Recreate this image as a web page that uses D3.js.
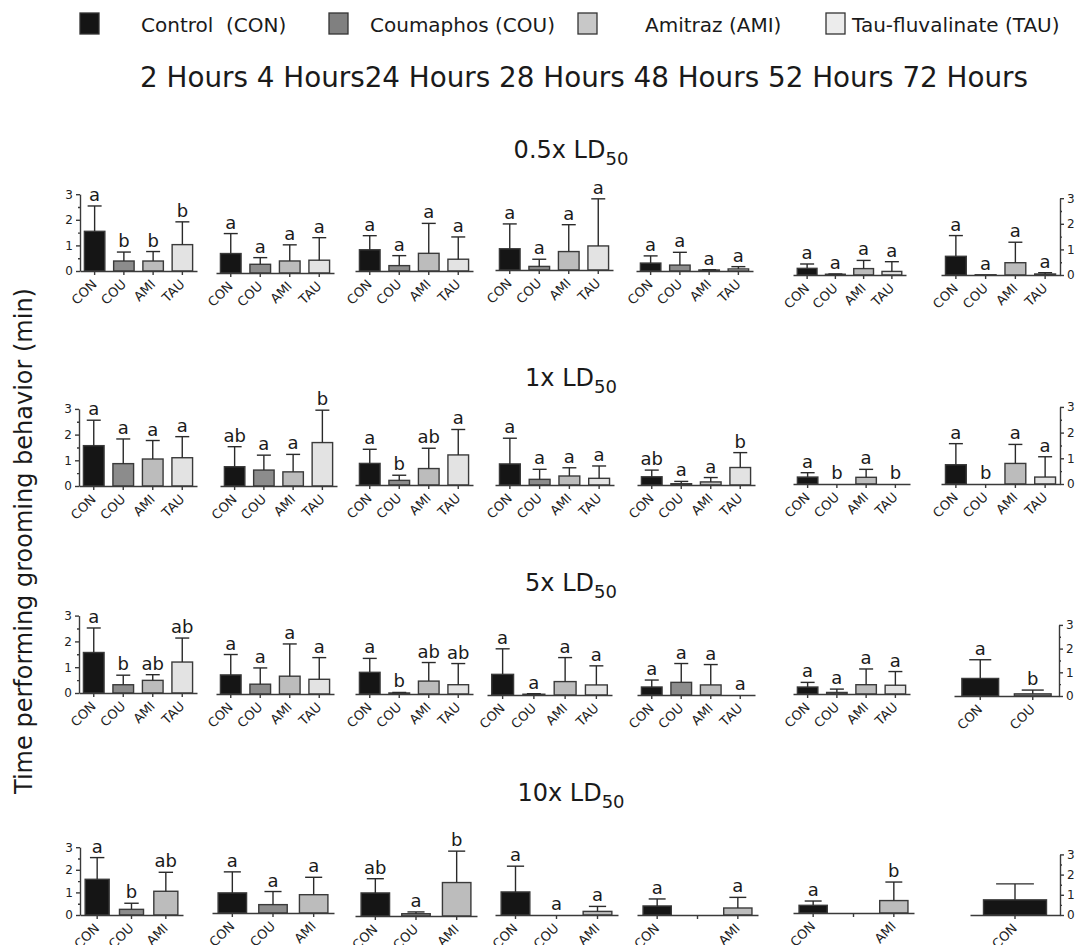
<!DOCTYPE html>
<html>
<head>
<meta charset="utf-8">
<script src="https://cdn.jsdelivr.net/npm/d3@7"></script>
<style>
  body { margin: 0; background: #fff; }
  text { font-family: "DejaVu Sans", sans-serif; fill: #1a1a1a; }
  .axis path, .axis line { stroke: #3a3a3a; stroke-width: 1.4; }
  .axis text { font-size: 12px; fill: #222; }
</style>
</head>
<body>
<svg id="chart" width="1077" height="945"></svg>
<script>
// ---- data ----
const hours = ["2 Hours", "4 Hours", "24 Hours", "28 Hours", "48 Hours", "52 Hours", "72 Hours"];
const treatments = ["Control  (CON)", "Coumaphos (COU)", "Amitraz (AMI)", "Tau-fluvalinate (TAU)"];
const doses = ["0.5x LD", "1x LD", "5x LD", "10x LD"];
const four = ["CON", "COU", "AMI", "TAU"];
const three = ["CON", "COU", "AMI"];

// 0.5x LD50
const groups05 = [four, four, four, four, four, four, four];
const means05 = [
  [1.55, 0.39, 0.39, 1.03], [0.76, 0.34, 0.47, 0.50], [0.83, 0.21, 0.69, 0.46], [0.83, 0.14, 0.72, 0.94],
  [0.31, 0.23, 0.04, 0.08], [0.26, 0.03, 0.25, 0.14], [0.73, 0.01, 0.48, 0.04]];
const sd05 = [
  [0.99, 0.35, 0.37, 0.89], [0.78, 0.26, 0.63, 0.88], [0.55, 0.39, 1.17, 0.87], [0.97, 0.28, 1.05, 1.84],
  [0.28, 0.50, 0.01, 0.09], [0.17, 0.01, 0.32, 0.38], [0.81, 0.00, 0.80, 0.05]];
const letters05 = [
  ["a", "b", "b", "b"], ["a", "a", "a", "a"], ["a", "a", "a", "a"], ["a", "a", "a", "a"],
  ["a", "a", "a", "a"], ["a", "a", "a", "a"], ["a", "a", "a", "a"]];

// 1x LD50
const groups1 = [four, four, four, four, four, four, four];
const means1 = [
  [1.57, 0.87, 1.05, 1.10], [0.75, 0.62, 0.55, 1.69], [0.84, 0.18, 0.64, 1.17], [0.82, 0.22, 0.35, 0.26],
  [0.32, 0.05, 0.12, 0.68], [0.27, 0.00, 0.26, 0.00], [0.75, 0.00, 0.80, 0.27]];
const sd1 = [
  [0.99, 0.96, 0.72, 0.82], [0.78, 0.58, 0.68, 1.26], [0.55, 0.20, 0.79, 0.99], [1.00, 0.39, 0.32, 0.48],
  [0.26, 0.09, 0.17, 0.58], [0.17, 0.00, 0.31, 0.00], [0.82, 0.00, 0.74, 0.79]];
const letters1 = [
  ["a", "a", "a", "a"], ["ab", "a", "a", "b"], ["a", "b", "ab", "a"], ["a", "a", "a", "a"],
  ["ab", "a", "a", "b"], ["a", "b", "a", "b"], ["a", "b", "a", "a"]];

// 5x LD50
const groups5 = [four, four, four, four, four, four, ["CON", "COU"]];
const means5 = [
  [1.57, 0.32, 0.49, 1.20], [0.74, 0.38, 0.69, 0.57], [0.84, 0.04, 0.50, 0.36], [0.80, 0.03, 0.52, 0.39],
  [0.31, 0.49, 0.39, 0.00], [0.27, 0.06, 0.36, 0.34], [0.74, 0.09]];
const sd5 = [
  [0.95, 0.37, 0.22, 0.93], [0.79, 0.63, 1.25, 0.84], [0.54, 0.02, 0.72, 0.82], [0.99, 0.02, 0.93, 0.74],
  [0.27, 0.73, 0.79, 0.00], [0.18, 0.13, 0.61, 0.53], [0.79, 0.16]];
const letters5 = [
  ["a", "b", "ab", "ab"], ["a", "a", "a", "a"], ["a", "b", "ab", "ab"], ["a", "a", "a", "a"],
  ["a", "a", "a", "a"], ["a", "a", "a", "a"], ["a", "b"]];

// 10x LD50 (null = group not tested)
const groups10 = [three, three, three, three, three, three, ["CON"]];
const means10 = [
  [1.58, 0.25, 1.05], [0.89, 0.37, 0.81], [1.02, 0.10, 1.48], [1.02, 0.00, 0.16],
  [0.40, null, 0.31], [0.34, null, 0.55], [0.75]];
const sd10 = [
  [0.96, 0.27, 0.84], [0.93, 0.58, 0.77], [0.63, 0.08, 1.39], [1.14, 0.00, 0.22],
  [0.31, null, 0.47], [0.19, null, 0.82], [0.79]];
const letters10 = [
  ["a", "b", "ab"], ["a", "a", "a"], ["ab", "a", "b"], ["a", "a", "a"],
  ["a", "", "a"], ["a", "", "b"], [""]];

// ---- layout (pixels) ----
const panelX = [
  [[80, 197], [216, 334], [355, 473], [495, 613], [636, 753], [793, 906], [941, 1060]],
  [[79, 197], [220, 337], [355, 473], [495, 614], [637, 755], [793, 910], [941, 1060]],
  [[79, 197], [216, 334], [355, 473], [487, 612], [637, 755], [793, 910], [954, 1059]],
  [[80, 183], [212, 334], [355, 477], [495, 618], [637, 758], [793, 914], [970, 1060]]];
const panelBase = [
  [271, 273, 271, 270, 271, 275, 275],
  [486, 486, 485, 485, 485, 484, 484],
  [693, 694, 694, 695, 695, 694, 696],
  [915, 913, 916, 915, 915, 913, 915]];
const panelUnit = [
  [25.6, 25.6, 25.6, 25.6, 25.6, 25.6, 25.6],
  [25.7, 25.7, 25.7, 25.7, 25.7, 25.7, 25.7],
  [25.8, 25.8, 25.8, 25.8, 25.8, 25.8, 23.7],
  [22.6, 22.6, 22.6, 22.6, 22.6, 22.6, 20.2]];
const titleY = [158, 386, 591, 801];

const fills = { CON: "#151515", COU: "#8c8c8c", AMI: "#bcbcbc", TAU: "#e3e3e3" };
const legendFills = ["#151515", "#808080", "#c8c8c8", "#ececec"];

const rows = [
  { groups: groups05, means: means05, sd: sd05, letters: letters05 },
  { groups: groups1, means: means1, sd: sd1, letters: letters1 },
  { groups: groups5, means: means5, sd: sd5, letters: letters5 },
  { groups: groups10, means: means10, sd: sd10, letters: letters10 }];

const svg = d3.select("#chart");

// legend
const legX = [80, 329, 578, 826];
const legTextX = [141, 370, 645, 852];
treatments.forEach((t, i) => {
  svg.append("rect").attr("x", legX[i]).attr("y", 13).attr("width", 19).attr("height", 21)
    .attr("fill", legendFills[i]).attr("stroke", "#333").attr("stroke-width", 1.3);
  svg.append("text").attr("x", legTextX[i]).attr("y", 32).attr("font-size", 20)
    .style("white-space", "pre").text(t);
});

// time points header
svg.append("text").attr("x", 140).attr("y", 87).attr("font-size", 28)
  .attr("textLength", 888).attr("lengthAdjust", "spacingAndGlyphs")
  .text(hours.join(" ").replace("4 Hours 24", "4 Hours24"));

// y title
svg.append("text").attr("transform", "translate(32,541) rotate(-90)")
  .attr("text-anchor", "middle").attr("font-size", 24)
  .text("Time performing grooming behavior (min)");

rows.forEach((row, r) => {
  // dose title with subscript
  const tt = svg.append("text").attr("x", 571).attr("y", titleY[r])
    .attr("text-anchor", "middle").attr("font-size", 24);
  tt.append("tspan").text(doses[r]);
  tt.append("tspan").attr("font-size", 18).attr("dy", 7).text("50");

  row.groups.forEach((grp, p) => {
    const [x0, x1] = panelX[r][p];
    const base = panelBase[r][p];
    const unit = panelUnit[r][p];
    const x = d3.scaleBand().domain(grp).range([x0, x1]).paddingInner(0.3).paddingOuter(0.15);
    const y = d3.scaleLinear().domain([0, 3]).range([base, base - 3 * unit]);
    const g = svg.append("g");
    const vals = grp.map((k, i) => ({
      key: k, mean: row.means[p][i], sd: row.sd[p][i], letter: row.letters[p][i]
    }));
    const bw = x.bandwidth();
    const cap = Math.max(14, bw * 0.6);

    // bars
    g.selectAll("rect.bar").data(vals.filter(d => d.mean !== null)).join("rect")
      .attr("class", "bar")
      .attr("x", d => x(d.key)).attr("width", bw)
      .attr("y", d => y(d.mean)).attr("height", d => base - y(d.mean))
      .attr("fill", d => fills[d.key]).attr("stroke", "#3a3a3a").attr("stroke-width", 1.4);

    // error bars (upper only)
    const eb = g.selectAll("g.err").data(vals.filter(d => d.mean !== null && d.sd > 0)).join("g");
    eb.append("line")
      .attr("x1", d => x(d.key) + bw / 2).attr("x2", d => x(d.key) + bw / 2)
      .attr("y1", d => y(d.mean)).attr("y2", d => y(d.mean + d.sd))
      .attr("stroke", "#2a2a2a").attr("stroke-width", 1.4);
    eb.append("line")
      .attr("x1", d => x(d.key) + bw / 2 - cap / 2).attr("x2", d => x(d.key) + bw / 2 + cap / 2)
      .attr("y1", d => y(d.mean + d.sd)).attr("y2", d => y(d.mean + d.sd))
      .attr("stroke", "#2a2a2a").attr("stroke-width", 1.4);

    // significance letters
    g.selectAll("text.let").data(vals.filter(d => d.mean !== null && d.letter)).join("text")
      .attr("class", "let")
      .attr("x", d => x(d.key) + bw / 2)
      .attr("y", d => y(d.mean + d.sd) - 5)
      .attr("text-anchor", "middle").attr("font-size", 18)
      .text(d => d.letter);

    // x axis
    const xa = svg.append("g").attr("class", "axis")
      .attr("transform", `translate(0,${base})`)
      .call(d3.axisBottom(x).tickSize(4).tickSizeOuter(0));
    xa.selectAll(".tick text")
      .text((k, i) => vals[i].mean === null ? "" : k)
      .attr("text-anchor", "end")
      .attr("x", 0).attr("y", 0).attr("dy", 0)
      .style("font-size", "13px")
      .attr("transform", "translate(3,14) rotate(-45)");

    // y axes on the outer panels
    if (p === 0 || p === row.groups.length - 1) {
      const left = p === 0;
      const ax = svg.append("g").attr("class", "axis")
        .attr("transform", `translate(${left ? x0 : x1},0)`);
      const major = (left ? d3.axisLeft(y) : d3.axisRight(y))
        .tickValues([0, 1, 2, 3]).tickFormat(d3.format("d")).tickSize(4).tickSizeOuter(0).tickPadding(3);
      ax.call(major);
      const minor = (left ? d3.axisLeft(y) : d3.axisRight(y))
        .tickValues([0.5, 1.5, 2.5]).tickFormat("").tickSize(2).tickSizeOuter(0);
      svg.append("g").attr("class", "axis").attr("transform", `translate(${left ? x0 : x1},0)`)
        .call(minor).select(".domain").remove();
    }
  });
});
</script>
</body>
</html>
